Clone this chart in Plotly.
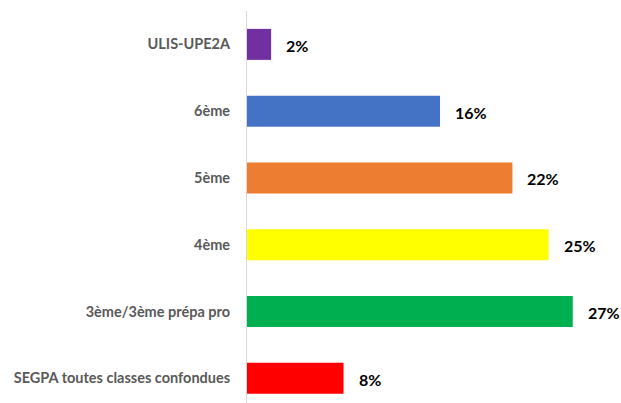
import plotly.graph_objects as go

categories = ["ULIS-UPE2A", "6ème", "5ème", "4ème", "3ème/3ème prépa pro",
              "SEGPA toutes classes confondues"]
values = [2, 16, 22, 25, 27, 8]
labels = ["2%", "16%", "22%", "25%", "27%", "8%"]
colors = ["#7030A0", "#4472C4", "#ED7D31", "#FFFF00", "#00B050", "#FF0000"]

fig = go.Figure(go.Bar(
    x=values, y=categories, orientation="h",
    marker=dict(color=colors, line_width=0),
    hoverinfo="skip",
))

# value labels to the right of each bar
for cat, v, lab in zip(categories, values, labels):
    fig.add_annotation(x=v, y=cat, text="<b>" + lab + "</b>", showarrow=False,
                       xanchor="left", xshift=13, yshift=-1,
                       font=dict(family="Lato", size=16, color="#000000"))

fig.update_layout(
    width=621, height=403,
    margin=dict(l=247, r=0, t=11, b=0),
    plot_bgcolor="white", paper_bgcolor="white",
    bargap=0.536,
    showlegend=False,
    font=dict(family="Lato"),
)
fig.update_xaxes(range=[0, 31], visible=False)
fig.update_yaxes(
    categoryorder="array", categoryarray=categories,
    range=[5.37, -0.5],
    showline=True, linecolor="#D9D9D9", linewidth=1,
    showgrid=False, ticks="", ticklabelstandoff=13,
    tickfont=dict(family="Lato", size=14.5, color="#595959", weight="bold"),
)

# drop the default page margin so the figure fills the window exactly
fig.write_html("out.html",
               config={"displayModeBar": False},
               post_script="document.body.style.margin='0';"
                           "document.body.style.overflow='hidden';")
